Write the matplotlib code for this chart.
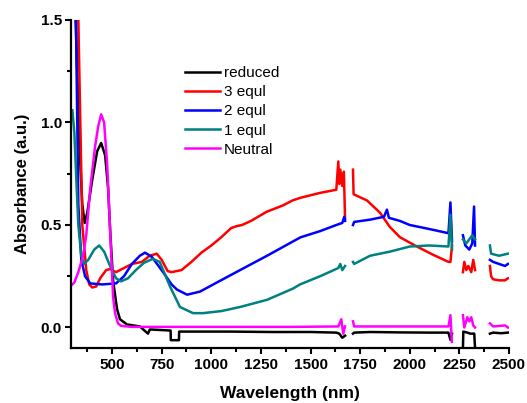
import numpy as np
import matplotlib
matplotlib.use("Agg")
import matplotlib.pyplot as plt
from matplotlib.ticker import MultipleLocator, FormatStrFormatter

nan = np.nan

# wavelength (nm) / absorbance, nan = gap between detector segments
reduced_x = [300, 315, 335, 350, 362, 375, 400, 425, 445, 465, 480, 490, 505, 525, 540, 575, 640, 681, 690,
             700, 795, 796, 837, 838, 900, 1100, 1300, 1500, 1630, 1645, 1660, 1674,
             1690,
             1714, 1720, 1800, 1950, 2100, 2195, 2205, 2213,
             2240,
             2268, 2270, 2290, 2305, 2325, 2329,
             2370,
             2404, 2420, 2460, 2495]
reduced_y = [2.0, 1.55, 0.9, 0.6, 0.51, 0.56, 0.72, 0.86, 0.90, 0.84, 0.68, 0.48, 0.23, 0.09, 0.04, 0.015, 0.005, -0.03, -0.01,
             -0.01, -0.015, -0.062, -0.062, -0.02, -0.02, -0.02, -0.022, -0.022, -0.025, -0.03, -0.05, -0.04,
             nan,
             -0.03, -0.025, -0.022, -0.024, -0.025, -0.025, -0.06, -0.03,
             nan,
             -0.1, -0.02, -0.025, -0.03, -0.03, -0.1,
             nan,
             -0.03, -0.025, -0.028, -0.025]

equl3_x = [300, 330, 350, 370, 385, 400, 420, 440, 470, 490, 520, 560, 600, 650, 690, 725, 750, 780, 800,
           850, 900, 950, 1000, 1050, 1100, 1130, 1155, 1200, 1280, 1360, 1410, 1450, 1550, 1630,
           1640, 1645, 1650, 1660, 1668, 1674,
           1690,
           1714, 1717, 1750, 1784, 1850, 1900, 1951, 2036, 2117, 2195, 2205, 2213,
           2240,
           2268, 2275, 2285, 2295, 2310, 2320, 2329,
           2370,
           2404, 2410, 2420, 2450, 2480, 2495]
equl3_y = [3.0, 1.5, 0.5, 0.28, 0.21, 0.195, 0.2, 0.24, 0.28, 0.285, 0.27, 0.29, 0.31, 0.32, 0.35, 0.36, 0.33, 0.275, 0.27,
           0.28, 0.32, 0.365, 0.40, 0.44, 0.485, 0.495, 0.50, 0.52, 0.565, 0.595, 0.62, 0.633, 0.657, 0.672,
           0.81, 0.70, 0.77, 0.69, 0.76, 0.53,
           nan,
           0.77, 0.65, 0.635, 0.62, 0.56, 0.49, 0.44, 0.395, 0.355, 0.32, 0.32, 0.40,
           nan,
           0.27, 0.32, 0.28, 0.30, 0.27, 0.33, 0.28,
           nan,
           0.30, 0.25, 0.235, 0.23, 0.23, 0.24]

equl2_x = [300, 318, 330, 345, 364, 390, 450, 520, 560, 600, 640, 666, 700, 757, 800, 827, 878, 943,
           1029, 1145, 1281, 1412, 1450, 1548, 1630, 1660, 1670, 1674,
           1690,
           1714, 1720, 1800, 1870, 1885, 1895, 1950, 2000, 2100, 2195, 2205, 2213,
           2240,
           2268, 2280, 2300, 2315, 2324, 2329,
           2370,
           2404, 2420, 2450, 2480, 2495]
equl2_y = [2.5, 1.5, 0.6, 0.33, 0.25, 0.215, 0.21, 0.215, 0.25, 0.31, 0.35, 0.365, 0.345, 0.27, 0.21, 0.185, 0.16, 0.175,
           0.22, 0.28, 0.35, 0.42, 0.44, 0.47, 0.50, 0.51, 0.54, 0.52,
           nan,
           0.50, 0.515, 0.526, 0.54, 0.575, 0.535, 0.52, 0.50, 0.48, 0.46, 0.61, 0.42,
           nan,
           0.45, 0.40, 0.38, 0.41, 0.59, 0.40,
           nan,
           0.33, 0.32, 0.31, 0.30, 0.31]

equl1_x = [300, 310, 320, 330, 345, 358, 380, 410, 435, 460, 490, 520, 545, 580, 620, 660, 705, 740,
           792, 842, 908, 958, 1050, 1145, 1281, 1412, 1447, 1548, 1640, 1650, 1660, 1674,
           1690,
           1714, 1720, 1800, 1900, 2000, 2100, 2195, 2205, 2213,
           2240,
           2268, 2285, 2300, 2315, 2329,
           2370,
           2404, 2410, 2450, 2495]
equl1_y = [1.06, 0.95, 0.72, 0.5, 0.35, 0.31, 0.33, 0.38, 0.40, 0.37, 0.30, 0.24, 0.225, 0.24, 0.28, 0.315, 0.335, 0.32,
           0.20, 0.10, 0.07, 0.07, 0.08, 0.10, 0.135, 0.19, 0.21, 0.25, 0.29, 0.31, 0.28, 0.30,
           nan,
           0.32, 0.31, 0.35, 0.37, 0.395, 0.40, 0.395, 0.55, 0.38,
           nan,
           0.43, 0.41, 0.43, 0.45, 0.43,
           nan,
           0.40, 0.36, 0.35, 0.36]

neutral_x = [300, 310, 330, 354, 370, 389, 414, 430, 445, 460, 475, 490, 505, 515, 530, 545, 600,
             1000, 1400, 1640, 1655, 1665, 1674,
             1690,
             1714, 1720, 1900, 2195, 2205, 2212,
             2240,
             2268, 2275, 2290, 2300, 2310, 2320, 2329,
             2370,
             2404, 2420, 2480, 2495]
neutral_y = [0.21, 0.22, 0.27, 0.35, 0.45, 0.67, 0.88, 0.98, 1.04, 1.0, 0.80, 0.48, 0.15, 0.07, 0.02, 0.008, 0.003,
             0.003, 0.003, 0.005, 0.04, -0.03, 0.005,
             nan,
             0.03, 0.005, 0.005, 0.005, 0.06, -0.07,
             nan,
             0.06, 0.0, 0.05, 0.03, 0.05, 0.01, 0.0,
             nan,
             0.02, 0.005, 0.01, 0.0]

series = [
    ("reduced", reduced_x, reduced_y, "black"),
    ("3 equl", equl3_x, equl3_y, "#ff0000"),
    ("2 equl", equl2_x, equl2_y, "#0000ff"),
    ("1 equl", equl1_x, equl1_y, "#008080"),
    ("Neutral", neutral_x, neutral_y, "#ff00ff"),
]

plt.rcParams['font.family'] = ['Liberation Sans', 'DejaVu Sans']

fig = plt.figure(figsize=(5.27, 4.03), dpi=100)
ax = fig.add_axes([0.1347, 0.1365, 0.8311, 0.8139])

for label, xs, ys, color in series:
    ax.plot(xs, ys, color=color, lw=1.8, label=label)

ax.set_xlim(293, 2500)
ax.set_ylim(-0.1, 1.5)
ax.set_xticks([500, 750, 1000, 1250, 1500, 1750, 2000, 2250, 2500])
ax.xaxis.set_minor_locator(MultipleLocator(125))
ax.yaxis.set_major_locator(MultipleLocator(0.5))
ax.yaxis.set_minor_locator(MultipleLocator(0.25))
ax.yaxis.set_major_formatter(FormatStrFormatter('%.1f'))

for side in ['top', 'right']:
    ax.spines[side].set_visible(False)
for side in ['left', 'bottom']:
    ax.spines[side].set_linewidth(1.6)

ax.tick_params(which='major', direction='out', length=4.5, width=1.5, labelsize=11)
ax.tick_params(which='minor', direction='out', length=3, width=1.5)
ax.tick_params(axis='y', which='major', pad=2)
ax.tick_params(axis='x', which='major', pad=3)
for lab in ax.get_xticklabels() + ax.get_yticklabels():
    lab.set_fontweight('bold')

ax.set_xlabel('Wavelength (nm)', fontsize=12.5, fontweight='bold', labelpad=10)
ax.set_ylabel('Absorbance (a.u.)', fontsize=12, fontweight='bold', labelpad=8)

ax.legend(loc='upper left', bbox_to_anchor=(185 / 527, 1 - 66 / 403), bbox_transform=fig.transFigure,
          frameon=False, fontsize=11, handlelength=2.3, handletextpad=0.25, labelspacing=0.34,
          borderpad=0, borderaxespad=0)

fig.savefig('out.png', dpi=100)
